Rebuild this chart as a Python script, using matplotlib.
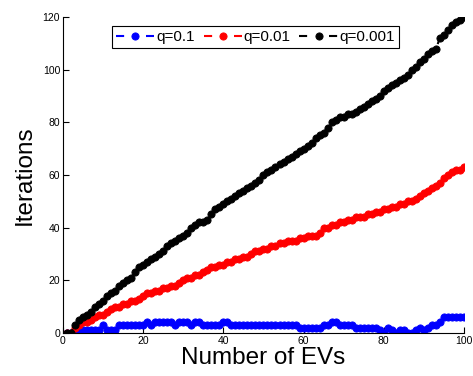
import numpy as np
import matplotlib
matplotlib.use('Agg')
import matplotlib.pyplot as plt

plt.rcParams['font.family'] = ['Liberation Sans', 'DejaVu Sans']

# number of EVs on the x axis
n_ev = list(range(1, 101))

# iterations for each q
it_q01 = [0, 0, 1, 1, 1, 1, 1, 1, 1, 3,
          1, 1, 1, 3, 3, 3, 3, 3, 3, 3,
          4, 3, 4, 4, 4, 4, 4, 3, 4, 4,
          4, 3, 4, 4, 3, 3, 3, 3, 3, 4,
          4, 3, 3, 3, 3, 3, 3, 3, 3, 3,
          3, 3, 3, 3, 3, 3, 3, 3, 2, 2,
          2, 2, 2, 2, 3, 3, 4, 4, 3, 3,
          3, 3, 2, 2, 2, 2, 2, 2, 1, 0,
          2, 1, 0, 1, 1, 0, 0, 1, 2, 1,
          2, 3, 3, 4, 6, 6, 6, 6, 6, 6]

it_q001 = [0, 0, 2, 3, 4, 4, 5, 6, 7, 7,
           8, 9, 10, 10, 11, 11, 12, 12, 13, 14,
           15, 15, 16, 16, 17, 17, 18, 18, 19, 20,
           21, 21, 22, 22, 23, 24, 25, 25, 26, 26,
           27, 27, 28, 28, 29, 29, 30, 31, 31, 32,
           32, 33, 33, 34, 34, 35, 35, 35, 36, 36,
           37, 37, 37, 38, 40, 40, 41, 41, 42, 42,
           43, 43, 44, 44, 44, 45, 45, 46, 46, 47,
           47, 48, 48, 49, 49, 50, 50, 51, 52, 53,
           54, 55, 56, 57, 59, 60, 61, 62, 62, 63]

it_q0001 = [0, 0, 3, 5, 6, 7, 8, 10, 11, 12,
            14, 15, 16, 18, 19, 20, 21, 23, 25, 26,
            27, 28, 29, 30, 31, 33, 34, 35, 36, 37,
            38, 40, 41, 42, 42, 43, 45, 47, 48, 49,
            50, 51, 52, 53, 54, 55, 56, 57, 58, 60,
            61, 62, 63, 64, 65, 66, 67, 68, 69, 70,
            71, 72, 74, 75, 76, 78, 80, 81, 82, 82,
            83, 83, 84, 85, 86, 87, 88, 89, 90, 92,
            93, 94, 95, 96, 97, 98, 100, 101, 103, 104,
            106, 107, 108, 112, 113, 115, 117, 118, 119, 120]

labels = ['q=0.1', 'q=0.01', 'q=0.001']
colors = ['#0000ff', '#ff0000', '#000000']

fig = plt.figure(figsize=(4.73, 3.76), dpi=100)
ax = fig.add_axes([0.133, 0.1144, 0.848, 0.8404])

for y, lab, c in zip([it_q01, it_q001, it_q0001], labels, colors):
    ax.plot(n_ev, y, linestyle=(0, (3.9, 10.5)), color=c, linewidth=1.5,
            marker='o', markersize=5.2, markeredgewidth=0.6, label=lab)

ax.set_xlim(0, 100)
ax.set_ylim(0, 120)
ax.set_xticks([0, 20, 40, 60, 80, 100])
ax.set_yticks([0, 20, 40, 60, 80, 100, 120])
ax.tick_params(direction='in', length=4, width=0.8, labelsize=7.5, pad=2)
ax.spines['top'].set_visible(False)
ax.spines['right'].set_visible(False)

ax.set_xlabel('Number of EVs', fontsize=17.5, labelpad=1)
ax.set_ylabel('Iterations', fontsize=17.5, labelpad=5)

leg = ax.legend(loc='upper center', bbox_to_anchor=(0.48, 0.97), ncol=3,
                fontsize=11, frameon=True, fancybox=False, framealpha=1,
                edgecolor='black', handlelength=2.5, handletextpad=0.1,
                columnspacing=0.6, borderpad=0.25, numpoints=1,
                borderaxespad=0)
leg.get_frame().set_linewidth(0.8)

fig.savefig('out.png', dpi=100)
